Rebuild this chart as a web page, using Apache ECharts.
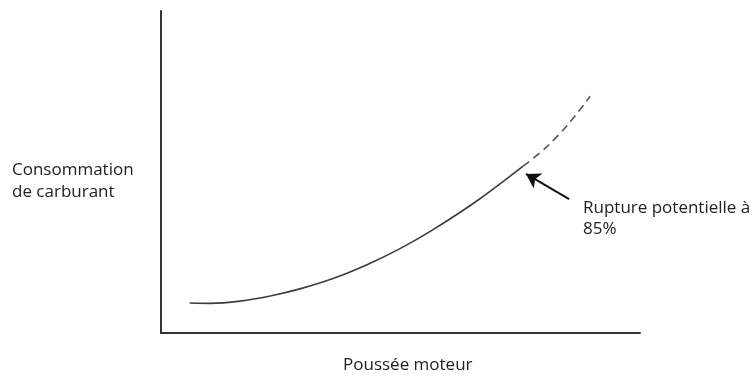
<!DOCTYPE html>
<html>
<head>
<meta charset="utf-8">
<script src="https://cdn.jsdelivr.net/npm/echarts@6/dist/echarts.min.js"></script>
<style>
  html, body { margin: 0; padding: 0; background: #fff; }
  #chart { width: 756px; height: 383px; }
</style>
</head>
<body>
<div id="chart"></div>
<script>
// Engine thrust (x) vs fuel consumption (y), both on a relative 0-100 scale
const thrustSolid = [6.0, 10.2, 16.5, 22.8, 29.0, 35.9, 43.0, 49.9, 56.8, 66.6, 75.6];
const fuelSolid   = [9.3, 9.2, 9.9, 11.5, 13.7, 16.9, 21.2, 26.2, 32.1, 41.7, 51.8];

// Extrapolated part beyond the break point
const thrustDashed = [75.6, 80.3, 85.0, 89.6];
const fuelDashed   = [51.8, 57.5, 64.8, 73.5];

// Arrow pointing at the break point: [tail, tip]
const arrowThrust = [85.2, 76.2];
const arrowFuel   = [41.6, 49.4];

const yLabel = 'Consommation\nde carburant';
const xLabel = 'Poussée moteur';
const noteLabel = 'Rupture potentielle à\n85%';

const FONT = '"Open Sans", "Noto Sans", sans-serif';
const INK = '#333333';

const zip = (xs, ys) => xs.map((x, i) => [x, ys[i]]);

const chart = echarts.init(document.getElementById('chart'), null, { renderer: 'canvas' });

const axisCommon = {
  type: 'value',
  min: 0,
  max: 100,
  axisLabel: { show: false },
  axisTick: { show: false },
  splitLine: { show: false },
  axisLine: { show: true, onZero: false, lineStyle: { color: INK, width: 2 } }
};

chart.setOption({
  animation: false,
  backgroundColor: '#ffffff',
  grid: { left: 161, right: 116, top: 11, bottom: 50, containLabel: false },
  xAxis: axisCommon,
  yAxis: axisCommon,
  series: [
    {
      type: 'line',
      data: zip(thrustSolid, fuelSolid),
      smooth: 0.3,
      symbol: 'none',
      lineStyle: { color: '#3c3c3c', width: 1.6 },
      markLine: {
        silent: true,
        symbol: ['none', 'arrow'],
        symbolSize: [13, 14],
        label: { show: false },
        lineStyle: { color: '#111111', width: 2, type: 'solid' },
        data: [[
          { coord: [arrowThrust[0], arrowFuel[0]] },
          { coord: [arrowThrust[1], arrowFuel[1]] }
        ]]
      }
    },
    {
      type: 'line',
      data: zip(thrustDashed, fuelDashed),
      smooth: 0.3,
      symbol: 'none',
      lineStyle: { color: '#555555', width: 1.6, type: [8, 5] }
    }
  ],
  graphic: [
    {
      type: 'text', left: 12, top: 159,
      style: { text: yLabel, font: '17px ' + FONT, fill: '#222', lineHeight: 22 }
    },
    {
      type: 'text', left: 343, top: 357,
      style: { text: xLabel, font: '17px ' + FONT, fill: '#222' }
    },
    {
      type: 'text', left: 583, top: 198,
      style: { text: noteLabel, font: '17px ' + FONT, fill: '#222', lineHeight: 21 }
    }
  ]
});
</script>
</body>
</html>
